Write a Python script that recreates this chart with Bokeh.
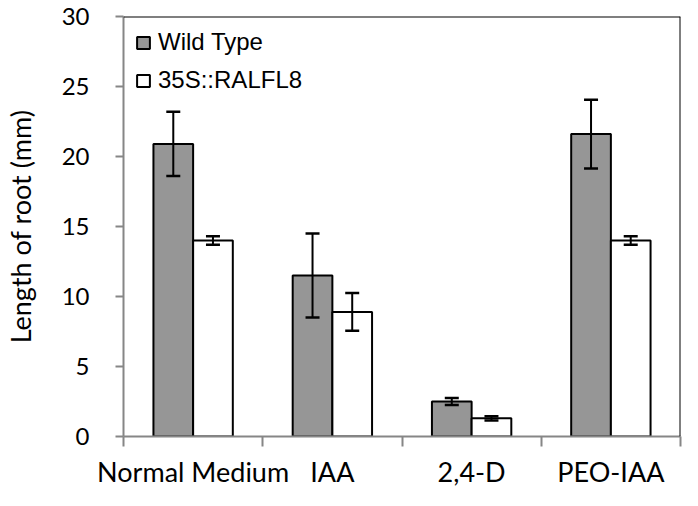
from bokeh.plotting import figure
from bokeh.models import ColumnDataSource, Whisker, TeeHead, FixedTicker, Span, Legend, LegendItem, Range1d
from bokeh.embed import file_html
from bokeh.resources import INLINE

categories = ["Normal Medium", "IAA", "2,4-D", "PEO-IAA"]
wt_mean = [20.9, 11.5, 2.5, 21.6]
wt_err = [2.3, 3.0, 0.25, 2.45]
tg_mean = [14.0, 8.9, 1.3, 14.0]
tg_err = [0.3, 1.35, 0.15, 0.3]
series_names = ["Wild Type", "35S::RALFL8"]
y_ticks = [0, 5, 10, 15, 20, 25, 30]

bar_w = 0.285
centers = [i + 0.5 for i in range(len(categories))]
x_wt = [c - bar_w / 2 for c in centers]
x_tg = [c + bar_w / 2 for c in centers]

src_wt = ColumnDataSource(dict(x=x_wt, top=wt_mean,
                               lo=[m - e for m, e in zip(wt_mean, wt_err)],
                               hi=[m + e for m, e in zip(wt_mean, wt_err)]))
src_tg = ColumnDataSource(dict(x=x_tg, top=tg_mean,
                               lo=[m - e for m, e in zip(tg_mean, tg_err)],
                               hi=[m + e for m, e in zip(tg_mean, tg_err)]))

p = figure(width=682, height=490, output_backend="svg", toolbar_location=None,
           x_range=Range1d(0, len(categories)), y_range=Range1d(0, 30),
           min_border_left=118, min_border_right=2, min_border_top=16, min_border_bottom=10)
p.xgrid.grid_line_color = None
p.ygrid.grid_line_color = None
p.outline_line_color = None
p.background_fill_color = "white"

r_wt = p.vbar(x="x", top="top", width=bar_w, source=src_wt, fill_color="#969696",
              line_color="black", line_width=2)
r_tg = p.vbar(x="x", top="top", width=bar_w, source=src_tg, fill_color="white",
              line_color="black", line_width=2)

for s in (src_wt, src_tg):
    w = Whisker(source=s, base="x", lower="lo", upper="hi", line_color="black", line_width=2,
                level="overlay",
                upper_head=TeeHead(size=14, line_width=2.5, line_color="black"),
                lower_head=TeeHead(size=14, line_width=2.5, line_color="black"))
    p.add_layout(w)

p.add_layout(Span(location=30, dimension="width", line_color="black", line_width=2))
p.add_layout(Span(location=len(categories), dimension="height", line_color="black", line_width=2))

# x axis
p.xaxis.ticker = FixedTicker(ticks=centers, minor_ticks=list(range(len(categories) + 1)))
p.xaxis.major_label_overrides = {c: cat for c, cat in zip(centers, categories)}
p.xaxis.major_tick_out = 0
p.xaxis.major_tick_in = 0
p.xaxis.minor_tick_out = 10
p.xaxis.minor_tick_in = 0
p.xaxis.minor_tick_line_color = "#868686"
p.xaxis.minor_tick_line_width = 2
p.xaxis.axis_line_color = "#868686"
p.xaxis.axis_line_width = 2
p.xaxis.major_label_standoff = 8
p.xaxis.major_label_text_font = "Lato"
p.xaxis.major_label_text_font_size = "27px"
p.xaxis.major_label_text_color = "black"

# y axis
p.yaxis.ticker = FixedTicker(ticks=y_ticks, minor_ticks=[])
p.yaxis.major_tick_out = 8
p.yaxis.major_tick_in = 0
p.yaxis.major_tick_line_color = "#868686"
p.yaxis.major_tick_line_width = 2
p.yaxis.axis_line_color = "#868686"
p.yaxis.axis_line_width = 2
p.yaxis.major_label_standoff = 26
p.yaxis.major_label_text_font = "Lato"
p.yaxis.major_label_text_font_size = "24px"
p.yaxis.major_label_text_color = "black"
p.yaxis.axis_label = "Length of root (mm)"
p.yaxis.axis_label_text_font = "Lato"
p.yaxis.axis_label_text_font_size = "27px"
p.yaxis.axis_label_text_font_style = "normal"
p.yaxis.axis_label_text_color = "black"
p.yaxis.axis_label_standoff = 22

legend = Legend(items=[LegendItem(label=series_names[0], renderers=[r_wt]),
                       LegendItem(label=series_names[1], renderers=[r_tg])],
                location="top_left", margin=12, padding=14, spacing=10,
                glyph_width=16, glyph_height=15, label_standoff=7,
                label_text_font="Liberation Sans", label_text_font_size="24px",
                label_text_color="black",
                border_line_color=None, background_fill_alpha=0)
p.add_layout(legend)

open("out.html", "w").write(file_html(p, INLINE))
